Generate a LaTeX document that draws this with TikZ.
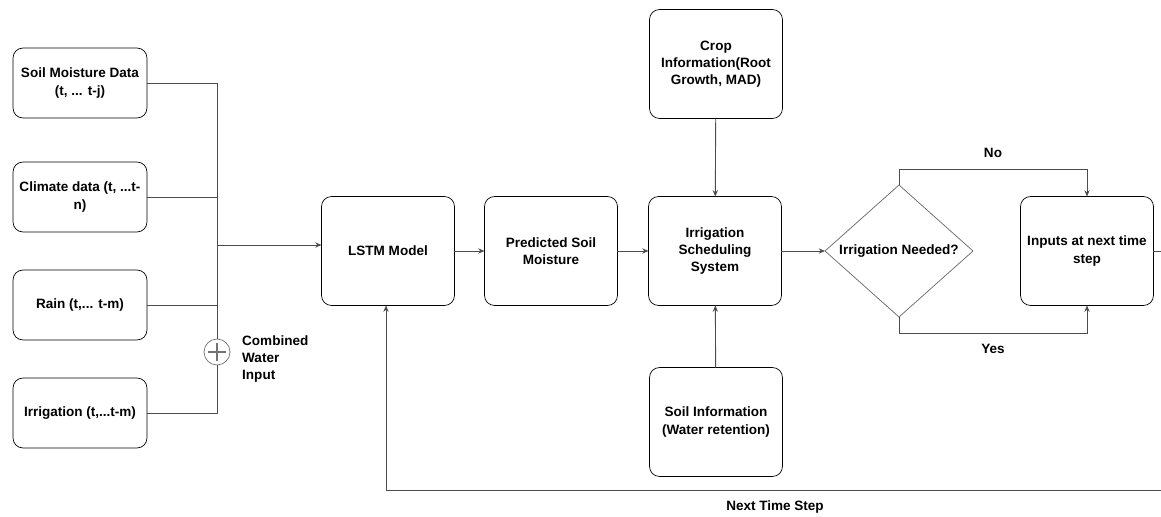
\documentclass[tikz,border=0pt]{standalone}
\usepackage{fontspec}
\setmainfont{Liberation Sans}
\usetikzlibrary{calc,shapes.geometric,arrows.meta}

\begin{document}
\begin{tikzpicture}[x=0.02cm,y=-0.02cm,
    txt/.style={font=\fontsize{7.7}{9.8}\selectfont\bfseries},
    box/.style={txt,draw,rounded corners=0.2cm,align=center,outer sep=0,inner sep=2pt},
    inbox/.style={box,minimum width=2.68cm,minimum height=1.4cm},
    bigbox/.style={box,minimum width=2.66cm,minimum height=2.18cm},
    link/.style={draw=black!70,line width=0.5pt},
    arr/.style={link,-{Stealth[length=3.6pt,width=3pt]}}]

    \useasboundingbox (0,0) rectangle (1161,517);

    % inputs and the bus
    \node[inbox] (soil) at (80,83) {Soil Moisture Data\\(t, ... t-j)};
    \node[inbox] (clim) at (80,197) {Climate data (t, ...t-\\n)};
    \node[inbox] (rain) at (80,305) {Rain (t,... t-m)};
    \node[inbox] (irr) at (80,413) {Irrigation (t,...t-m)};
    \coordinate (bus) at (217,245);
    \draw[link] (soil.east) -- (soil.east -| bus) -- (irr.east -| bus) -- (irr.east);
    \draw[link] (clim.east) -- (clim.east -| bus);
    \draw[link] (rain.east) -- (rain.east -| bus);
    \node[circle, draw=black!55, fill=white, minimum size=0.52cm, inner sep=0] (sum) at (217,352) {};
    \draw[black!55, line width=0.6pt] ($(sum)+(-9,0)$) -- ($(sum)+(9,0)$) ($(sum)+(0,-9)$) -- ($(sum)+(0,9)$);
    \node[txt, align=left, anchor=west] (sumlbl) at (236,359) {Combined\\Water\\Input};

    % main chain
    \node[bigbox] (lstm) at (388,251) {LSTM Model};
    \node[bigbox] (pred) at (551,251) {Predicted Soil\\Moisture};
    \node[bigbox] (sched) at (715,251) {Irrigation\\Scheduling\\System};
    \node[bigbox] (crop) at (716,64) {Crop\\Information(Root\\Growth, MAD)};
    \node[bigbox] (soilinfo) at (716,422) {Soil Information\\(Water retention)};
    \node[txt, diamond, draw=black!60, aspect=1.12, minimum width=2.96cm, minimum height=2.64cm,
          inner sep=0, outer sep=0] (need) at (899,251) {Irrigation Needed?};
    \node[bigbox] (next) at (1087,251) {Inputs at next time\\step};

    \draw[arr] (bus) -- (bus -| lstm.west);
    \draw[arr] (lstm) -- (pred);
    \draw[arr] (pred) -- (sched);
    \draw[arr] (crop) -- (sched);
    \draw[arr] (soilinfo) -- (sched);
    \draw[arr] (sched) -- (need);
    \draw[arr] (need.north) -- ++(0,-16) -| (next.north) node[txt, pos=0.25, above=3pt] {No};
    \draw[arr] (need.south) -- ++(0,16) -| (next.south) node[txt, pos=0.25, below=3pt] {Yes};

    % feedback to the model
    \coordinate (fbr) at (1161,490);
    \coordinate (fbl) at (386,490);
    \draw[link] (next.east) -- (next.east -| fbr);
    \draw[arr] (fbr) -- (fbl) -- (fbl |- lstm.south);
    \node[txt] (fblbl) at (775,507) {Next Time Step};

\end{tikzpicture}
\end{document}
